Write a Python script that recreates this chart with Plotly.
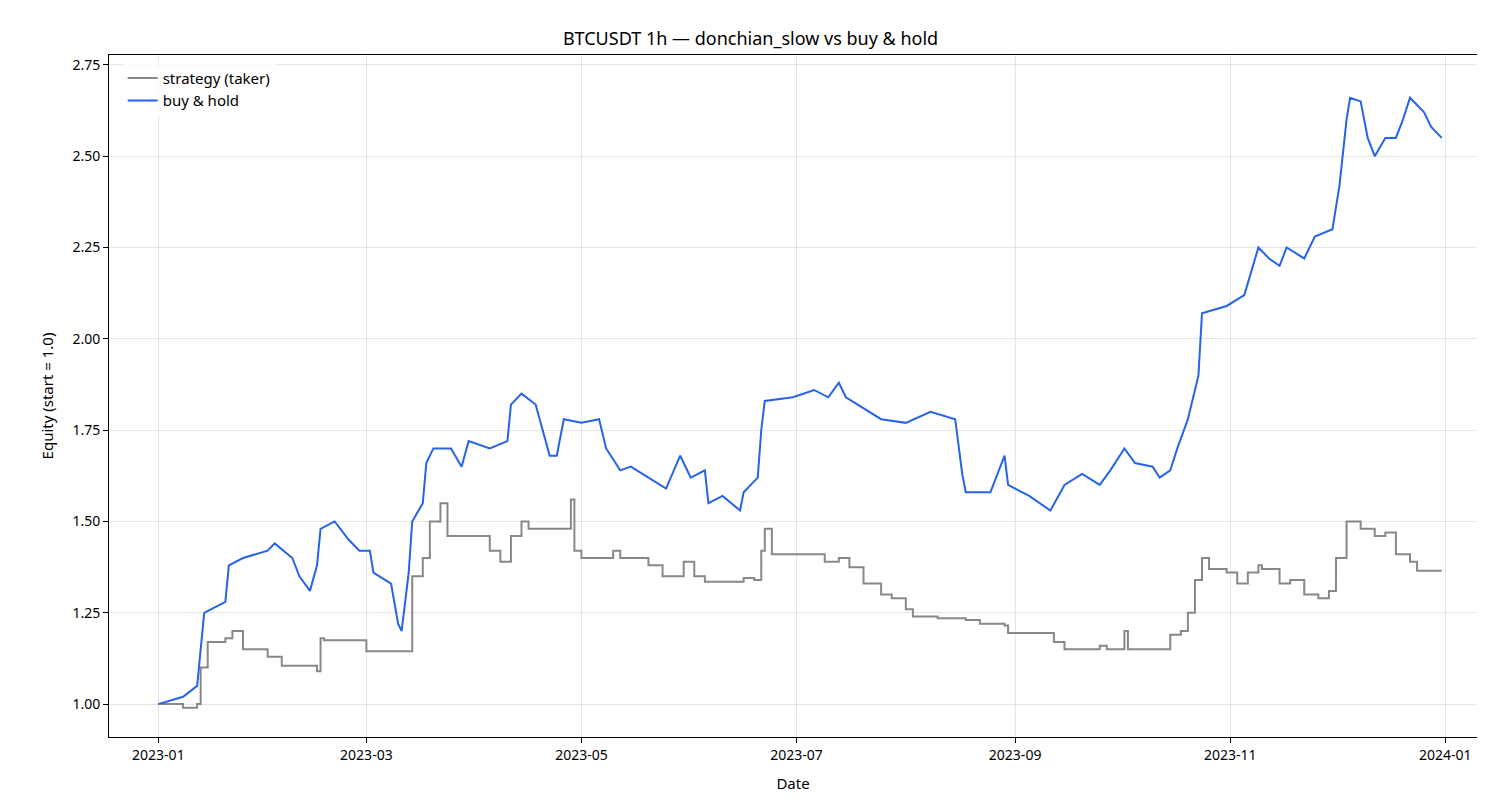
import plotly.graph_objects as go

# buy & hold equity at key dates
bh_dates = ["2023-01-01", "2023-01-08", "2023-01-12", "2023-01-13", "2023-01-14", "2023-01-20", "2023-01-21",
            "2023-01-25", "2023-02-01", "2023-02-03", "2023-02-08", "2023-02-10", "2023-02-13", "2023-02-15",
            "2023-02-16", "2023-02-20", "2023-02-24", "2023-02-27", "2023-03-02", "2023-03-03", "2023-03-08",
            "2023-03-10", "2023-03-11", "2023-03-13", "2023-03-14", "2023-03-17", "2023-03-18", "2023-03-20",
            "2023-03-25", "2023-03-28", "2023-03-30", "2023-04-05", "2023-04-10", "2023-04-11", "2023-04-14",
            "2023-04-18", "2023-04-20", "2023-04-22", "2023-04-24", "2023-04-26", "2023-05-01", "2023-05-06",
            "2023-05-08", "2023-05-12", "2023-05-15", "2023-05-20", "2023-05-25", "2023-05-29", "2023-06-01",
            "2023-06-05", "2023-06-06", "2023-06-10", "2023-06-15", "2023-06-16", "2023-06-20", "2023-06-21",
            "2023-06-22", "2023-06-30", "2023-07-06", "2023-07-10", "2023-07-13", "2023-07-15", "2023-07-20",
            "2023-07-25", "2023-08-01", "2023-08-08", "2023-08-15", "2023-08-17", "2023-08-18", "2023-08-25",
            "2023-08-29", "2023-08-30", "2023-09-05", "2023-09-11", "2023-09-15", "2023-09-20", "2023-09-25",
            "2023-09-28", "2023-10-02", "2023-10-05", "2023-10-10", "2023-10-12", "2023-10-15", "2023-10-17",
            "2023-10-20", "2023-10-23", "2023-10-24", "2023-10-31", "2023-11-05", "2023-11-09", "2023-11-12",
            "2023-11-15", "2023-11-17", "2023-11-22", "2023-11-25", "2023-11-30", "2023-12-02", "2023-12-04",
            "2023-12-05", "2023-12-08", "2023-12-10", "2023-12-12", "2023-12-15", "2023-12-18", "2023-12-20",
            "2023-12-22", "2023-12-26", "2023-12-28", "2023-12-31"]
bh_values = [1.00, 1.02, 1.05, 1.15, 1.25, 1.28, 1.38, 1.40, 1.42, 1.44, 1.40, 1.35, 1.31, 1.38,
             1.48, 1.50, 1.45, 1.42, 1.42, 1.36, 1.33, 1.22, 1.20, 1.36, 1.50, 1.55, 1.66, 1.70,
             1.70, 1.65, 1.72, 1.70, 1.72, 1.82, 1.85, 1.82, 1.75, 1.68, 1.68, 1.78, 1.77, 1.78,
             1.70, 1.64, 1.65, 1.62, 1.59, 1.68, 1.62, 1.64, 1.55, 1.57, 1.53, 1.58, 1.62, 1.75,
             1.83, 1.84, 1.86, 1.84, 1.88, 1.84, 1.81, 1.78, 1.77, 1.80, 1.78, 1.63, 1.58, 1.58,
             1.68, 1.60, 1.57, 1.53, 1.60, 1.63, 1.60, 1.64, 1.70, 1.66, 1.65, 1.62, 1.64, 1.70,
             1.78, 1.90, 2.07, 2.09, 2.12, 2.25, 2.22, 2.20, 2.25, 2.22, 2.28, 2.30, 2.42, 2.60,
             2.66, 2.65, 2.55, 2.50, 2.55, 2.55, 2.60, 2.66, 2.62, 2.58, 2.55]

# strategy (taker) equity, stepwise
st_dates = ["2023-01-01", "2023-01-08", "2023-01-12", "2023-01-13", "2023-01-15", "2023-01-20", "2023-01-22",
            "2023-01-25", "2023-02-01", "2023-02-05", "2023-02-14", "2023-02-15", "2023-02-16", "2023-02-17",
            "2023-03-01", "2023-03-13", "2023-03-14", "2023-03-17", "2023-03-19", "2023-03-22", "2023-03-24",
            "2023-04-05", "2023-04-08", "2023-04-11", "2023-04-14", "2023-04-16", "2023-04-28", "2023-04-29",
            "2023-05-01", "2023-05-10", "2023-05-12", "2023-05-20", "2023-05-24", "2023-05-30", "2023-06-02",
            "2023-06-05", "2023-06-16", "2023-06-19", "2023-06-21", "2023-06-22", "2023-06-24", "2023-07-09",
            "2023-07-13", "2023-07-16", "2023-07-20", "2023-07-25", "2023-07-28", "2023-08-01", "2023-08-03",
            "2023-08-10", "2023-08-18", "2023-08-22", "2023-08-29", "2023-08-30", "2023-09-12", "2023-09-15",
            "2023-09-25", "2023-09-27", "2023-10-02", "2023-10-03", "2023-10-15", "2023-10-18", "2023-10-20",
            "2023-10-22", "2023-10-24", "2023-10-26", "2023-10-31", "2023-11-03", "2023-11-06", "2023-11-09",
            "2023-11-10", "2023-11-15", "2023-11-18", "2023-11-22", "2023-11-26", "2023-11-29", "2023-12-01",
            "2023-12-04", "2023-12-08", "2023-12-12", "2023-12-15", "2023-12-18", "2023-12-22", "2023-12-24",
            "2023-12-31"]
st_values = [1.00, 0.99, 1.00, 1.10, 1.17, 1.18, 1.20, 1.15, 1.13, 1.105, 1.105, 1.09, 1.18, 1.175,
             1.145, 1.145, 1.35, 1.40, 1.50, 1.55, 1.46, 1.42, 1.39, 1.46, 1.50, 1.48, 1.56, 1.42,
             1.40, 1.42, 1.40, 1.38, 1.35, 1.39, 1.35, 1.335, 1.345, 1.34, 1.42, 1.48, 1.41, 1.39,
             1.40, 1.375, 1.33, 1.30, 1.29, 1.26, 1.24, 1.235, 1.23, 1.22, 1.215, 1.195, 1.17, 1.15,
             1.16, 1.15, 1.20, 1.15, 1.19, 1.20, 1.25, 1.34, 1.40, 1.37, 1.36, 1.33, 1.36, 1.38,
             1.37, 1.33, 1.34, 1.30, 1.29, 1.31, 1.40, 1.50, 1.48, 1.46, 1.47, 1.41, 1.39, 1.365,
             1.365]

fig = go.Figure()
fig.add_trace(go.Scatter(x=st_dates, y=st_values, mode="lines", name="strategy (taker)",
                         line=dict(color="#888888", width=2, shape="hv")))
fig.add_trace(go.Scatter(x=bh_dates, y=bh_values, mode="lines", name="buy & hold",
                         line=dict(color="#2563eb", width=2)))

axis_common = dict(showline=True, linecolor="black", linewidth=1, mirror=True,
                   ticks="outside", ticklen=5, tickcolor="black",
                   showgrid=True, gridcolor="rgba(0,0,0,0.1)", zeroline=False,
                   tickfont=dict(size=14, color="black"))

fig.update_layout(
    width=1485, height=810,
    paper_bgcolor="white", plot_bgcolor="white",
    font=dict(family="Noto Sans, sans-serif", color="black"),
    title=dict(text="BTCUSDT 1h — donchian_slow vs buy & hold", x=0.5, xanchor="center",
               y=0.97, font=dict(size=18)),
    margin=dict(l=101, r=16, t=47, b=81),
    legend=dict(x=0.01, y=0.99, xanchor="left", yanchor="top", bgcolor="rgba(255,255,255,0.8)",
                font=dict(size=15)),
    xaxis=dict(title=dict(text="Date", font=dict(size=15)), range=["2022-12-18", "2024-01-10"],
               tickformat="%Y-%m", dtick="M2", tick0="2023-01-01", **axis_common),
    yaxis=dict(title=dict(text="Equity (start = 1.0)", font=dict(size=15)), range=[0.91, 2.777],
               dtick=0.25, tickformat=".2f", **axis_common),
)

fig.write_html("out.html")
